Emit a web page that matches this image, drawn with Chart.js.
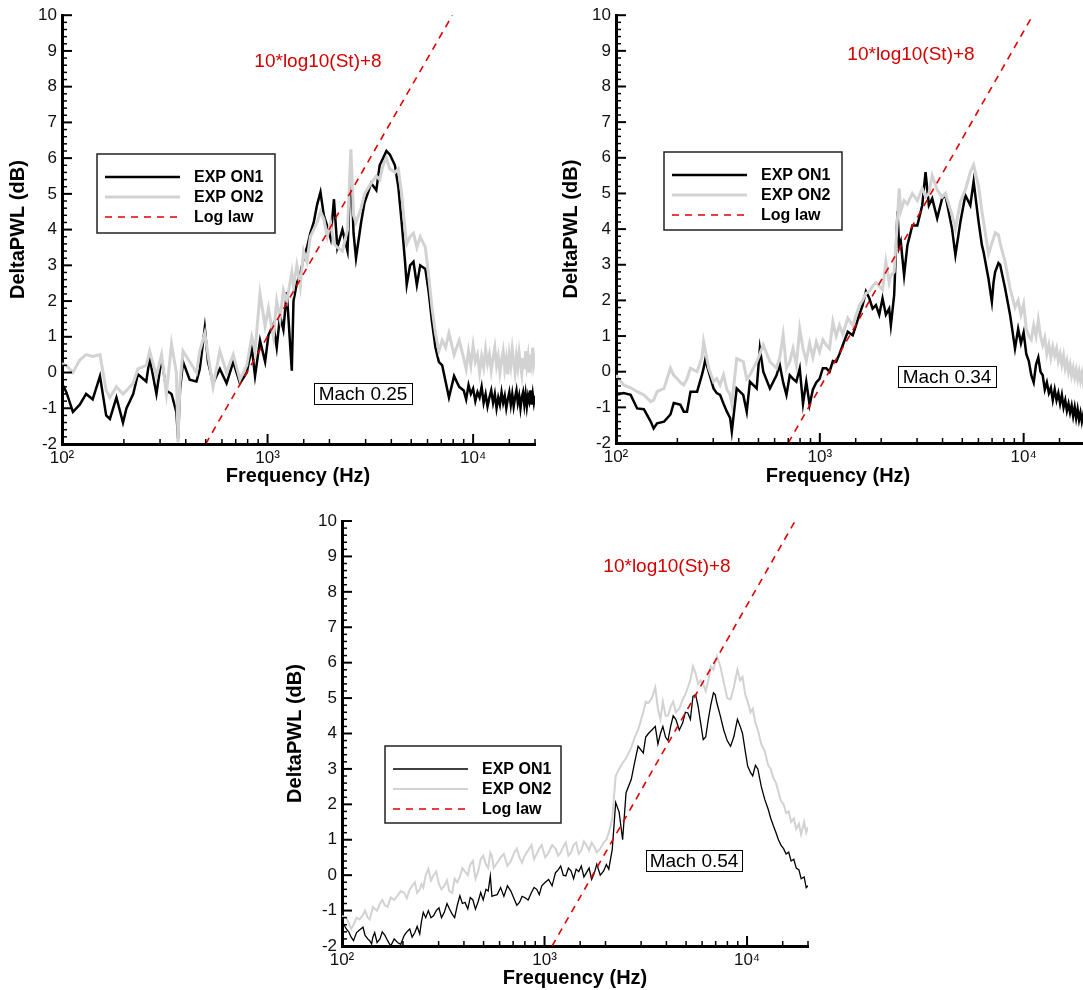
<!DOCTYPE html>
<html>
<head>
<meta charset="utf-8">
<title>DeltaPWL spectra</title>
<script src="https://cdn.jsdelivr.net/npm/chart.js@4.4.1/dist/chart.umd.min.js"></script>
<style>
  html, body { margin: 0; padding: 0; background: #fff; overflow: hidden; }
  body { width: 1083px; height: 990px; position: relative; }
  canvas { position: absolute; }
  #chart-m025 { left: 0; top: 0; }
  #chart-m034 { left: 555px; top: 0; }
  #chart-m054 { left: 280px; top: 500px; }
</style>
</head>
<body>
<canvas id="chart-m025" width="550" height="495"></canvas>
<canvas id="chart-m034" width="545" height="495"></canvas>
<canvas id="chart-m054" width="545" height="490"></canvas>

<script>
// ====
// Data
// ====

//  Axes / labels
//  -------------
const freqMin = 100;
const freqMax = 20000;
const dbMin = -2;
const dbMax = 10;
const decadeTicks = [100, 1000, 10000];
const decadeLabels = ['10\u00B2', '10\u00B3', '10\u2074'];
const xTitle = 'Frequency (Hz)';
const yTitle = 'DeltaPWL (dB)';
const seriesLabels = ['EXP ON1', 'EXP ON2', 'Log law'];
const lawText = '10*log10(St)+8';

//  Log law end points (same dB span for every panel)
const lawDb = [-2, 10];

//  Mach 0.25
//  ---------
const freqM025 = [
  100, 105, 113, 122, 131, 141, 153, 164, 171, 184,
  198, 206, 222, 234, 257, 267, 288, 305, 322, 341,
  360, 367, 375, 388, 418, 451, 468, 495, 513, 543,
  586, 632, 681, 734, 792, 838, 869, 919, 973, 1010,
  1067, 1108, 1150, 1194, 1240, 1312, 1337, 1388, 1442, 1497,
  1555, 1615, 1677, 1742, 1809, 1878, 1951, 2026, 2104, 2185,
  2313, 2449, 2543, 2620, 2693, 2851, 2961, 3193, 3381, 3511,
  3647, 3787, 3933, 4165, 4325, 4492, 4665, 4753, 4936, 5127,
  5324, 5529, 5855, 6080, 6315, 6558, 6811, 7073, 7346, 7629,
  8079, 8555,
  9000, 9250, 9500, 9750, 10000, 10250, 10500, 10750, 11000, 11250,
  11500, 11750, 12000, 12250, 12500, 12750, 13000, 13250, 13500, 13750,
  14000, 14250, 14500, 14750, 15000, 15250, 15500, 15750, 16000, 16250,
  16500, 16750, 17000, 17250, 17500, 17750, 18000, 18250, 18500, 18750,
  19000, 19250, 19500, 19750, 20000,
];
const on1M025 = [
  -0.3, -0.55, -1.1, -0.9, -0.6, -0.75, -0.1, -1.2, -1.3, -0.7,
  -1.4, -1.0, -0.6, -0.05, -0.25, 0.4, -0.6, 0.4, -0.5, -0.6,
  -1.1, -1.85, -0.5, 0.3, -0.2, -0.25, 0.1, 1.25, 0.3, -0.3,
  0.1, -0.3, 0.3, -0.3, 0.0, 0.7, -0.1, 0.9, 0.3, 1.05,
  1.35, 0.7, 1.6, 1.2, 2.25, 0.05, 2.0, 2.5, 2.75, 3.2,
  3.5, 3.9, 4.2, 4.7, 5.05, 4.4, 4.1, 3.75, 4.85, 3.5,
  4.0, 3.4, 5.9, 3.9, 3.2, 4.2, 4.75, 5.3, 5.1, 5.8,
  6.0, 6.2, 6.1, 5.8, 5.2, 4.2, 3.1, 2.45, 3.0, 3.1,
  2.45, 3.0, 2.9, 2.25, 1.4, 0.7, 0.3, 0.2, -0.25, -0.7,
  -0.1, -0.4,
  -0.5, -0.75, -0.35, -0.6, -0.45, -0.8, -0.55, -0.7, -0.4, -0.85,
  -0.6, -0.95, -0.7, -0.5, -0.85, -0.6, -1.0, -0.7, -0.9, -0.55,
  -0.85, -0.65, -1.0, -0.75, -0.55, -0.9, -0.6, -0.95, -0.7, -0.5,
  -0.85, -0.65, -1.0, -0.7, -0.55, -0.9, -0.6, -0.95, -0.65, -0.8,
  -0.5, -0.9, -0.6, -0.85, -0.65,
];
const on2M025 = [
  0.25, 0.2, 0.0, 0.35, 0.5, 0.45, 0.5, -0.5, -0.7, -0.4,
  -0.6, -0.5, -0.3, 0.1, 0.2, 0.6, -0.1, 0.5, -0.6, 0.8,
  0.0, -1.95, -0.3, 0.6, 0.3, 0.0, 0.6, 1.1, 0.5, -0.4,
  0.6, 0.0, 0.5, -0.2, 0.2, 1.0, 0.6, 2.2, 1.3, 1.8,
  1.0, 2.0, 1.5, 2.3, 2.0, 2.8, 2.4, 3.0, 2.4, 3.4,
  3.1, 3.8, 4.0, 4.2, 4.5, 4.3, 3.8, 4.2, 3.6, 3.5,
  3.4, 4.0, 6.25, 4.4, 4.2, 4.6, 5.0, 5.3, 5.5, 5.4,
  5.8, 6.0, 5.7, 5.6, 5.7, 5.0, 4.0, 3.6, 3.8, 3.9,
  3.5, 3.8, 3.5, 2.7, 1.8, 1.1, 0.6, 0.9, 0.7, 1.1,
  0.5, 0.9,
  0.4, 0.1, 0.6, 0.2, 0.75, 0.3, 0.5, 0.0, 0.45, 0.15,
  0.65, 0.25, 0.5, 0.05, 0.4, 0.7, 0.2, 0.45, 0.0, 0.35,
  0.6, 0.1, 0.4, -0.05, 0.5, 0.2, 0.65, 0.3, 0.0, 0.45,
  0.15, 0.55, 0.25, -0.05, 0.4, 0.1, 0.6, 0.2, 0.45, 0.0,
  0.5, 0.25, 0.7, 0.3, 0.55,
];
const lawFreqM025 = [500, 7925];

//  Mach 0.34
//  ---------
const freqM034 = [
  100, 109, 118, 127, 137, 148, 153, 159, 172, 185,
  192, 199, 207, 215, 223, 232, 250, 264, 269, 274,
  285, 301, 312, 324, 337, 350, 363, 370, 391, 421,
  438, 454, 490, 508, 528, 569, 613, 636, 661, 686,
  712, 739, 767, 797, 827, 858, 891, 925, 961, 997,
  1035, 1075, 1116, 1159, 1203, 1249, 1297, 1371, 1450, 1505,
  1563, 1622, 1684, 1749, 1815, 1885, 1957, 2031, 2109, 2189,
  2231, 2316, 2405, 2450, 2496, 2591, 2690, 2844, 3008, 3181,
  3302, 3428, 3559, 3765, 3982, 4134, 4456, 4626, 4893, 5176,
  5475, 5683, 6011, 6241, 6359, 6726, 6983, 7115, 7249, 7526,
  7668, 8110, 8577, 9069, 9400, 9700, 10000, 10300, 10600, 10900,
  11200, 11500, 11800, 12100, 12400, 12700, 13000, 13300, 13600, 13900,
  14200, 14500, 14800, 15100, 15400, 15700, 16000, 16300, 16600, 16900,
  17200, 17500, 17800, 18100, 18400, 18700, 19000, 19300, 19600, 20000,
];
const on1M034 = [
  -0.65, -0.6, -0.65, -1.03, -1.05, -1.4, -1.59, -1.45, -1.4, -1.2,
  -0.88, -0.9, -0.93, -1.12, -1.12, -0.56, -0.56, -0.09, 0.1, 0.33,
  0.0, -0.47, -0.6, -0.65, -0.9, -1.12, -1.3, -1.68, -0.47, -0.65,
  -1.12, -0.28, -0.47, 0.65, 0.0, -0.47, -0.1, 0.19, -0.3, -0.65,
  -0.1, -0.2, -0.28, 0.09, -0.9, -0.28, -0.93, -0.5, -0.3, -0.2,
  0.1, 0.1, 0.0, 0.3, 0.28, 0.5, 0.75, 1.12, 1.02, 1.3,
  1.6, 1.87, 2.25, 2.06, 1.77, 1.87, 1.6, 2.06, 1.6, 1.77,
  1.3, 2.15, 4.5, 3.5, 3.65, 2.7, 3.55, 4.1, 4.1, 4.67,
  5.6, 4.67, 4.86, 4.3, 4.86, 4.95, 4.0, 3.27, 4.2, 4.95,
  4.67, 5.33, 4.2, 3.55, 3.36, 2.6, 1.96, 2.5, 2.8, 3.05,
  3.0, 2.34, 1.6, 0.65, 1.2, 0.8, 1.1, 0.5, 0.3, -0.1,
  -0.3, 0.2, 0.4, 0.0, -0.1, -0.5, -0.3, -0.6, -0.45, -0.8,
  -0.5, -0.8, -0.6, -0.9, -0.65, -1.0, -0.8, -1.1, -0.9, -1.15,
  -0.95, -1.25, -1.0, -1.3, -1.05, -1.35, -1.15, -1.4, -1.2, -1.45,
];
const on2M034 = [
  -0.1, -0.37, -0.45, -0.56, -0.65, -0.84, -0.8, -0.56, -0.47, 0.1,
  -0.1, -0.19, -0.3, -0.37, -0.2, 0.1, 0.0, 0.4, 0.84, 0.6,
  0.1, -0.28, -0.19, -0.37, -0.09, -0.5, -0.65, -0.9, 0.37, 0.28,
  -0.2, -0.09, 0.28, 0.5, 0.75, 0.28, 0.1, 0.4, 1.03, 0.1,
  0.28, 0.65, 0.2, 1.2, 0.65, 0.3, 0.8, 0.4, 0.84, 0.56,
  0.9, 0.75, 0.65, 1.4, 1.0, 1.3, 1.05, 1.5, 1.3, 1.58,
  1.85, 2.0, 2.2, 2.25, 2.4, 2.5, 2.4, 2.3, 3.08, 2.5,
  2.7, 2.8, 4.3, 5.14, 4.5, 4.8, 4.7, 5.0, 4.8, 5.14,
  4.9, 5.0, 5.5, 5.1, 4.9, 5.0, 4.4, 4.0, 4.77, 5.1,
  5.6, 5.8, 5.2, 4.5, 4.2, 3.3, 3.6, 3.74, 3.9, 3.84,
  3.6, 3.08, 2.34, 1.8, 2.0, 1.6, 1.9, 1.2, 1.0, 0.9,
  1.3, 1.0, 1.45, 1.0, 0.75, 0.95, 0.5, 0.75, 0.4, 0.7,
  0.45, 0.65, 0.3, 0.5, 0.2, 0.45, 0.1, 0.3, 0.0, 0.2,
  -0.1, 0.1, -0.15, 0.05, -0.2, 0.0, -0.25, -0.05, -0.3, -0.1,
];
const lawFreqM034 = [700, 11100];

//  Mach 0.54
//  ---------
const freqM054 = [
  100, 105, 108, 111, 114, 118, 122, 127, 130, 134,
  137, 140, 142, 145, 149, 154, 158, 163, 168, 174,
  181, 188, 195, 203, 209, 216, 222, 229, 235, 242,
  247, 252, 259, 267, 275, 283, 292, 301, 310, 320,
  330, 339, 350, 360, 371, 382, 393, 405, 418, 430,
  443, 456, 470, 484, 498, 514, 527, 540, 550, 561,
  584, 607, 630, 656, 682, 709, 730, 752, 775, 798,
  830, 862, 888, 915, 942, 969, 1008, 1048, 1090, 1133,
  1168, 1202, 1238, 1274, 1312, 1351, 1392, 1433, 1476, 1519,
  1565, 1611, 1660, 1709, 1760, 1812, 1885, 1959, 2020, 2076,
  2160, 2246, 2336, 2430, 2527, 2680, 2790, 2898, 3074, 3160,
  3258, 3390, 3523, 3630, 3735, 3840, 3959, 4070, 4196, 4320,
  4449, 4630, 4812, 4960, 5101, 5250, 5407, 5570, 5733, 5900,
  6075, 6250, 6439, 6620, 6826, 6960, 7098, 7380, 7671, 7980,
  8290, 8600, 8964, 9250, 9500, 9800, 10070, 10400, 10670, 11000,
  11310, 11760, 12230, 12720, 13100, 13480, 13900, 14290, 14700, 15150,
  15600, 16060, 16500, 17020, 17500, 18040, 18500, 19140, 19600, 20000,
];
const on1M054 = [
  -1.29, -1.52, -1.6, -1.75, -1.85, -1.62, -1.55, -1.47, -1.7, -1.8,
  -1.85, -1.94, -1.75, -1.62, -1.9, -1.8, -1.6, -1.7, -1.85, -2.0,
  -1.8, -1.9, -1.95, -1.7, -1.6, -1.52, -1.75, -1.62, -1.45, -1.66,
  -1.3, -1.05, -1.2, -1.0, -1.2, -1.15, -1.0, -0.92, -1.2, -1.05,
  -0.8, -0.95, -1.1, -1.2, -0.85, -0.58, -0.8, -0.77, -0.95, -0.63,
  -0.7, -0.96, -0.75, -0.49, -0.7, -0.4, -0.45, -0.02, -0.6, -0.58,
  -0.55, -0.35, -0.6, -0.3, -0.45, -0.68, -0.85, -0.77, -0.6, -0.63,
  -0.7, -0.49, -0.35, -0.4, -0.55, -0.3, -0.2, -0.12, -0.3, 0.07,
  0.15, 0.26, 0.0, -0.02, 0.2, 0.12, -0.1, 0.17, 0.1, 0.26,
  -0.05, 0.07, 0.2, -0.12, 0.05, 0.31, 0.0, 0.12, 0.3, 0.17,
  0.73, 2.05, 1.78, 1.0, 2.33, 2.7, 3.2, 3.64, 3.45, 3.9,
  4.0, 4.1, 4.2, 3.7, 4.0, 4.2, 3.9, 3.8, 4.2, 4.5,
  4.4, 4.1, 4.3, 4.6, 4.58, 4.4, 5.05, 5.1, 4.77, 4.3,
  3.83, 3.9, 4.4, 4.8, 5.15, 5.1, 4.86, 4.5, 4.1, 3.8,
  3.64, 3.9, 4.4, 4.2, 4.0, 3.5, 3.08, 2.9, 2.8, 3.1,
  3.0, 2.5, 2.14, 1.86, 1.6, 1.4, 1.2, 1.0, 0.85, 0.75,
  0.6, 0.65, 0.4, 0.45, 0.2, 0.15, -0.1, -0.05, -0.35, -0.3,
];
const on2M054 = [
  -1.15, -1.2, -1.35, -1.52, -1.4, -1.2, -1.25, -1.12, -1.0, -1.2,
  -1.25, -1.05, -0.9, -0.95, -1.0, -0.8, -0.7, -0.85, -0.9, -0.63,
  -0.7, -0.58, -0.45, -0.5, -0.65, -0.4, -0.3, -0.2, -0.5, -0.4,
  -0.25, -0.35, 0.0, 0.17, -0.15, 0.0, 0.1, -0.25, -0.4, -0.3,
  -0.15, -0.45, -0.5, -0.1, -0.2, -0.05, 0.2, 0.1, 0.0, 0.3,
  0.4, -0.1, 0.1, 0.45, 0.55, 0.3, 0.2, 0.64, 0.55, 0.2,
  0.35, 0.5, 0.6, 0.26, 0.4, 0.64, 0.75, 0.5, 0.35, 0.55,
  0.7, 0.85, 0.45, 0.6, 0.75, 0.85, 0.5, 0.64, 0.85, 0.75,
  0.55, 0.64, 0.8, 0.92, 0.55, 0.64, 0.85, 0.92, 0.6, 0.7,
  0.95, 0.85, 0.7, 0.92, 0.8, 0.64, 0.75, 0.92, 1.0, 1.2,
  1.6, 2.8, 3.0, 3.17, 3.3, 3.6, 3.9, 4.1, 4.6, 4.9,
  4.86, 5.0, 5.3, 4.7, 4.4, 4.9, 4.5, 4.5, 4.75, 4.9,
  4.6, 4.7, 4.96, 5.1, 5.3, 5.5, 5.9, 5.7, 5.4, 5.5,
  5.4, 5.2, 5.5, 5.9, 5.8, 6.0, 6.18, 5.9, 5.45, 5.0,
  4.96, 5.3, 5.8, 5.5, 5.6, 5.1, 4.9, 4.6, 4.7, 4.3,
  4.1, 3.7, 3.5, 3.1, 3.0, 2.75, 2.6, 2.35, 2.1, 2.0,
  1.75, 1.8, 1.5, 1.6, 1.3, 1.45, 1.15, 1.5, 1.2, 1.35,
];
const lawFreqM054 = [1090, 17280];


// =======
// Helpers
// =======
const FONT = '"Liberation Sans", Arial, Helvetica, sans-serif';

const toPoints = (xs, ys) => xs.map((x, i) => ({x: x, y: ys[i]}));

const isDecade = (v) => {
  const p = Math.log10(v);
  return Math.abs(p - Math.round(p)) < 1e-9;
};

//  Inward ticks, legend box, labels and axis titles
const decorPlugin = {
  id: 'decor',
  afterDraw(chart, args, opts) {
    const {ctx, chartArea: area} = chart;
    const xs = chart.scales.x;
    const ys = chart.scales.y;
    ctx.save();

    // tick marks point into the plot
    ctx.strokeStyle = '#000';
    xs.ticks.forEach((t) => {
      const px = xs.getPixelForValue(t.value);
      const major = isDecade(t.value);
      ctx.lineWidth = major ? 2 : 1.5;
      ctx.beginPath();
      ctx.moveTo(px, area.bottom);
      ctx.lineTo(px, area.bottom - (major ? 10 : 5));
      ctx.stroke();
    });
    for (let i = dbMin * 5; i <= dbMax * 5; i++) {
      const py = ys.getPixelForValue(i / 5);
      const major = i % 5 === 0;
      ctx.lineWidth = major ? 2 : 1.5;
      ctx.beginPath();
      ctx.moveTo(area.left, py);
      ctx.lineTo(area.left + (major ? 10 : 5), py);
      ctx.stroke();
    }

    // formula
    ctx.fillStyle = '#d40000';
    ctx.font = '19px ' + FONT;
    ctx.textAlign = 'center';
    ctx.textBaseline = 'middle';
    ctx.fillText(lawText, opts.formula.x, opts.formula.y);

    // mach box
    const m = opts.mach;
    ctx.fillStyle = '#fff';
    ctx.fillRect(m.x, m.y, m.w, m.h);
    ctx.strokeStyle = '#000';
    ctx.lineWidth = 1;
    ctx.strokeRect(m.x + 0.5, m.y + 0.5, m.w, m.h);
    ctx.fillStyle = '#000';
    ctx.fillText(m.text, m.x + m.w / 2, m.y + m.h / 2 + 1);

    // legend
    const l = opts.legend;
    ctx.fillStyle = '#fff';
    ctx.fillRect(l.x, l.y, l.w, l.h);
    ctx.strokeStyle = '#222';
    ctx.lineWidth = 1.5;
    ctx.strokeRect(l.x, l.y, l.w, l.h);
    ctx.font = 'bold 16px ' + FONT;
    ctx.textAlign = 'left';
    chart.data.datasets.forEach((ds, i) => {
      const ly = l.y + 23 + i * 20;
      ctx.strokeStyle = ds.borderColor;
      ctx.lineWidth = ds.borderWidth;
      ctx.setLineDash(ds.borderDash || []);
      ctx.beginPath();
      ctx.moveTo(l.x + 8, ly);
      ctx.lineTo(l.x + 83, ly);
      ctx.stroke();
      ctx.setLineDash([]);
      ctx.fillStyle = '#000';
      ctx.fillText(ds.label, l.x + 97, ly + 1);
    });

    // axis titles
    ctx.font = 'bold 20px ' + FONT;
    ctx.textAlign = 'center';
    ctx.fillText(xTitle, opts.xTitle.x, opts.xTitle.y);
    ctx.translate(opts.yTitleX, (area.top + area.bottom) / 2);
    ctx.rotate(-Math.PI / 2);
    ctx.fillText(yTitle, 0, 0);

    ctx.restore();
  },
};

//  Build one panel
const makePanel = (canvas, p) => new Chart(canvas, {
  type: 'line',
  data: {
    datasets: [
      {
        label: seriesLabels[0],
        data: toPoints(p.freq, p.on1),
        borderColor: '#000000',
        borderWidth: p.on1Width,
        order: 3,
      },
      {
        label: seriesLabels[1],
        data: toPoints(p.freq, p.on2),
        borderColor: '#d2d2d2',
        borderWidth: p.on2Width,
        order: 2,
      },
      {
        label: seriesLabels[2],
        data: toPoints(p.lawFreq, lawDb),
        borderColor: '#e00000',
        borderWidth: 1.6,
        borderDash: [7, 6],
        order: 1,
      },
    ],
  },
  options: {
    responsive: false,
    animation: false,
    events: [],
    layout: {padding: p.padding, autoPadding: false},
    elements: {point: {radius: 0}, line: {tension: 0, fill: false}},
    plugins: {
      legend: {display: false},
      tooltip: {enabled: false},
      decor: p.decor,
    },
    scales: {
      x: {
        type: 'logarithmic',
        min: freqMin,
        max: freqMax,
        grid: {display: false, drawTicks: false},
        border: {display: true, color: '#000', width: 3},
        ticks: {
          autoSkip: false,
          maxRotation: 0,
          padding: 4,
          color: '#111',
          font: {family: FONT, size: 17},
          callback: (v) => {
            const k = decadeTicks.findIndex((d) => Math.abs(d - v) < 1e-6);
            return k >= 0 ? decadeLabels[k] : '';
          },
        },
        afterFit: (s) => { s.height = p.xHeight; },
      },
      y: {
        min: dbMin,
        max: dbMax,
        grid: {display: false, drawTicks: false},
        border: {display: true, color: '#000', width: 3},
        ticks: {
          stepSize: 1,
          padding: 5,
          color: '#111',
          font: {family: FONT, size: 17},
        },
        afterFit: (s) => { s.width = p.yWidth; },
      },
    },
  },
  plugins: [decorPlugin],
});


// ======
// Panels
// ======
const chartM025 = makePanel(document.getElementById('chart-m025'), {
  freq: freqM025, on1: on1M025, on2: on2M025, lawFreq: lawFreqM025,
  on1Width: 2.5, on2Width: 3,
  padding: {left: 0, top: 15, right: 15, bottom: 0},
  yWidth: 62, xHeight: 51,
  decor: {
    formula: {x: 318, y: 62},
    mach: {x: 314, y: 383, w: 98, h: 21, text: 'Mach 0.25'},
    legend: {x: 97, y: 154, w: 178, h: 79},
    xTitle: {x: 298, y: 476},
    yTitleX: 18,
  },
});

const chartM034 = makePanel(document.getElementById('chart-m034'), {
  freq: freqM034, on1: on1M034, on2: on2M034, lawFreq: lawFreqM034,
  on1Width: 2.5, on2Width: 3,
  padding: {left: 0, top: 15, right: 15, bottom: 0},
  yWidth: 61, xHeight: 52,
  decor: {
    formula: {x: 356, y: 55},
    mach: {x: 343, y: 366, w: 98, h: 21, text: 'Mach 0.34'},
    legend: {x: 109, y: 152, w: 178, h: 78},
    xTitle: {x: 283, y: 476},
    yTitleX: 16,
  },
});

const chartM054 = makePanel(document.getElementById('chart-m054'), {
  freq: freqM054, on1: on1M054, on2: on2M054, lawFreq: lawFreqM054,
  on1Width: 1.3, on2Width: 2,
  padding: {left: 0, top: 21, right: 17, bottom: 0},
  yWidth: 62, xHeight: 44,
  decor: {
    formula: {x: 387, y: 67},
    mach: {x: 366, y: 350, w: 96, h: 21, text: 'Mach 0.54'},
    legend: {x: 105, y: 246, w: 176, h: 77},
    xTitle: {x: 295, y: 478},
    yTitleX: 15,
  },
});
</script>
</body>
</html>
